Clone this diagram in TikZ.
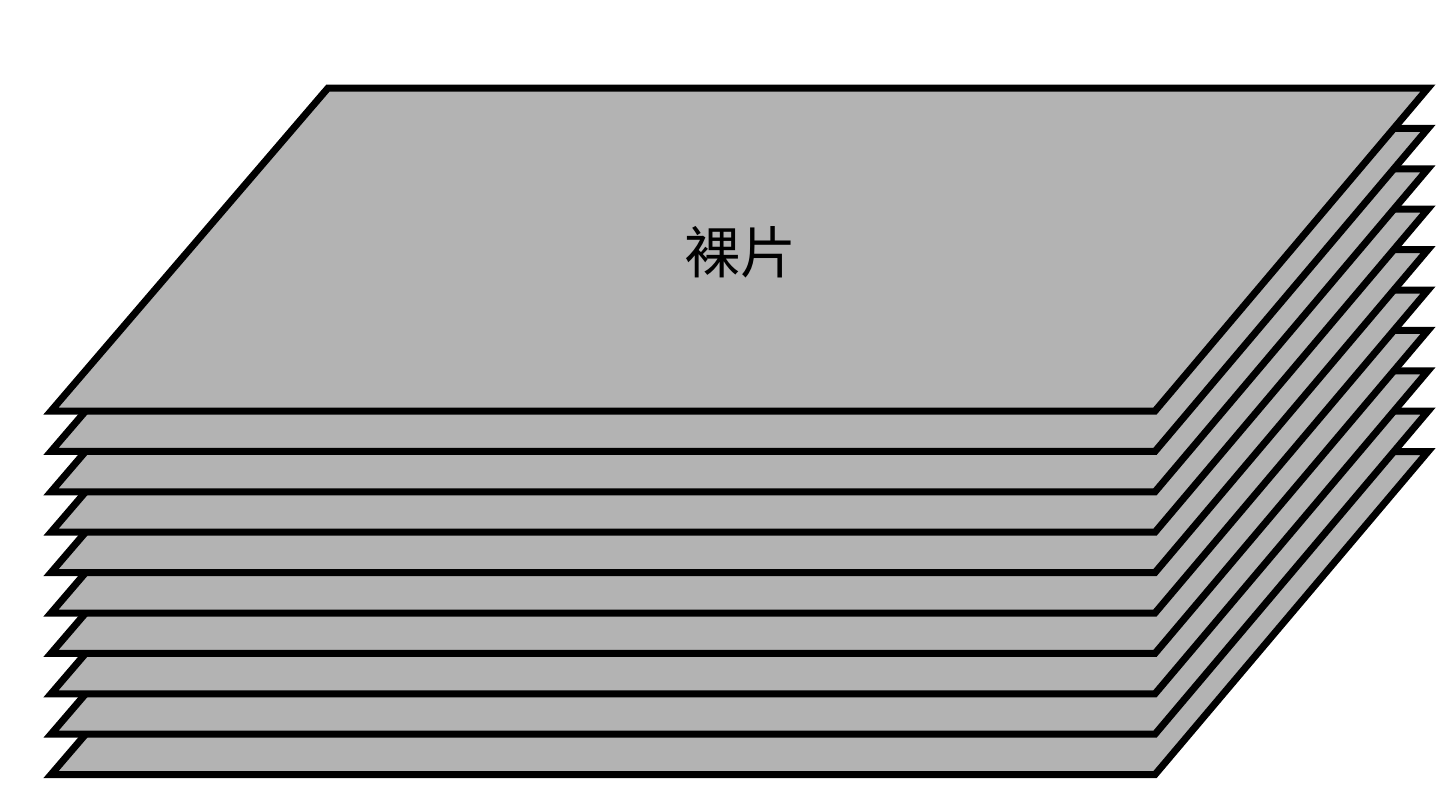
\documentclass[tikz,border=0pt]{standalone}
\usepackage{fontspec}
\newfontfamily\cjk{Noto Sans CJK SC}
\definecolor{sheetgray}{RGB}{179,179,179}
\tikzset{sheet/.style={fill=sheetgray,draw=black,line width=7pt,line join=miter}}
\begin{document}
\begin{tikzpicture}[x=1pt,y=-1pt]
\useasboundingbox (0,0) rectangle (1444,806);
\foreach \i in {9,8,...,0}{
  \pgfmathsetmacro{\dy}{\i*40.4}
  \draw[sheet] (328,88+\dy) -- (1428,88+\dy) -- (1155,411+\dy) -- (51,411+\dy) -- cycle;
}
\node (label) at (740,252) {\cjk\fontsize{56pt}{60pt}\selectfont 裸片};
\end{tikzpicture}
\end{document}
